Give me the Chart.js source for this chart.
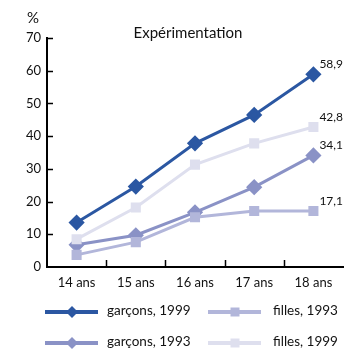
<!DOCTYPE html>
<html>
<head>
<meta charset="utf-8">
<script src="https://cdn.jsdelivr.net/npm/chart.js@4"></script>
<style>
  html, body { margin: 0; padding: 0; background: #fff; overflow: hidden; }
  #wrap { width: 352px; height: 353px; }
</style>
</head>
<body>
<div id="wrap"><canvas id="chart" width="352" height="353"></canvas></div>
<script>
// ages (categories)
const ages = ['14 ans', '15 ans', '16 ans', '17 ans', '18 ans'];
const yTicks = [0, 10, 20, 30, 40, 50, 60, 70];

// series values
const garcons1999 = [13.6, 24.6, 37.8, 46.5, 58.9];
const filles1999 = [8.5, 18.2, 31.3, 37.8, 42.8];
const garcons1993 = [6.8, 9.7, 16.7, 24.4, 34.1];
const filles1993 = [3.7, 7.6, 15.2, 17.1, 17.1];

const endLabels = ['58,9', '42,8', '34,1', '17,1'];

const FONT = 'Lato, "Open Sans", sans-serif';

const colDark = '#2b57a2';
const colMid = '#8a92c6';
const colLight = '#b2b6da';
const colPale = '#dedfee';

function series(label, data, color, shape, r) {
    return {
        label: label,
        data: data,
        borderColor: color,
        backgroundColor: color,
        borderWidth: 3,
        pointStyle: shape,
        pointRadius: r,
        pointHoverRadius: r,
        tension: 0
    };
}

// order: pale first so darker lines sit on top
const datasets = [
    series('filles, 1999', filles1999, colPale, 'rect', 5),
    series('filles, 1993', filles1993, colLight, 'rect', 5),
    series('garçons, 1993', garcons1993, colMid, 'rectRot', 6),
    series('garçons, 1999', garcons1999, colDark, 'rectRot', 6)
];

// labels for the last point of each series
const endInfo = [
    { ds: 3, text: endLabels[0] },
    { ds: 0, text: endLabels[1] },
    { ds: 2, text: endLabels[2] },
    { ds: 1, text: endLabels[3] }
];

// legend layout: [dataset index, column, row]
const legendItems = [[3, 0, 0], [1, 1, 0], [2, 0, 1], [0, 1, 1]];

const decorPlugin = {
    id: 'decor',
    afterDraw: function(chart) {
        const ctx = chart.ctx;
        const xs = chart.scales.x;
        const ys = chart.scales.y;
        const area = chart.chartArea;
        ctx.save();

        // inner ticks
        ctx.strokeStyle = '#000';
        ctx.lineWidth = 1.5;
        ctx.beginPath();
        for (let i = 0; i < ages.length - 1; i++) {
            const x = Math.round((xs.getPixelForTick(i) + xs.getPixelForTick(i + 1)) / 2) + 0.5;
            ctx.moveTo(x, area.bottom);
            ctx.lineTo(x, area.bottom - 7);
        }
        yTicks.forEach(function(v) {
            if (v === 0) return;
            const y = Math.round(ys.getPixelForValue(v)) + 0.5;
            ctx.moveTo(area.left, y);
            ctx.lineTo(area.left + 6, y);
        });
        ctx.stroke();

        // % and title
        ctx.fillStyle = '#111';
        ctx.font = '15px ' + FONT;
        ctx.textAlign = 'center';
        ctx.textBaseline = 'middle';
        ctx.fillText('%', 33, 18);
        ctx.font = '15px ' + FONT;
        ctx.fillText('Expérimentation', 188, 33);

        // end value labels
        ctx.font = '12px ' + FONT;
        ctx.textAlign = 'left';
        endInfo.forEach(function(e) {
            const pt = chart.getDatasetMeta(e.ds).data[ages.length - 1];
            ctx.fillText(e.text, pt.x + 6, pt.y - 10);
        });

        // legend
        legendItems.forEach(function(item) {
            const d = chart.data.datasets[item[0]];
            const x0 = item[1] === 0 ? 45 : 208;
            const y = item[2] === 0 ? 312 : 343;
            ctx.strokeStyle = d.borderColor;
            ctx.fillStyle = d.borderColor;
            ctx.lineWidth = 4;
            ctx.beginPath();
            ctx.moveTo(x0, y);
            ctx.lineTo(x0 + 53, y);
            ctx.stroke();
            const cx = x0 + 27;
            ctx.beginPath();
            if (d.pointStyle === 'rectRot') {
                ctx.moveTo(cx, y - 6);
                ctx.lineTo(cx + 6, y);
                ctx.lineTo(cx, y + 6);
                ctx.lineTo(cx - 6, y);
            } else {
                ctx.rect(cx - 4.5, y - 4.5, 9, 9);
            }
            ctx.closePath();
            ctx.fill();
            ctx.fillStyle = '#111';
            ctx.font = '13.5px ' + FONT;
            ctx.textBaseline = 'middle';
            ctx.fillText(d.label, item[1] === 0 ? 107 : 273, y - 1);
        });

        ctx.restore();
    }
};

new Chart(document.getElementById('chart').getContext('2d'), {
    type: 'line',
    data: { labels: ages, datasets: datasets },
    options: {
        responsive: false,
        animation: false,
        layout: { padding: { top: 38, bottom: 56, left: 0, right: 0 } },
        plugins: {
            legend: { display: false },
            tooltip: { enabled: false }
        },
        scales: {
            x: {
                offset: true,
                grid: { display: false, drawTicks: false },
                border: { display: true, color: '#000', width: 2 },
                ticks: {
                    color: '#111',
                    font: { family: FONT, size: 13 },
                    padding: 8,
                    maxRotation: 0
                },
                afterFit: function(scale) { scale.height = 30; }
            },
            y: {
                min: 0,
                max: 70,
                afterBuildTicks: function(scale) {
                    scale.ticks = yTicks.map(function(v) { return { value: v }; });
                },
                grid: { display: false, drawTicks: false },
                border: { display: true, color: '#000', width: 2 },
                ticks: {
                    color: '#111',
                    font: { family: FONT, size: 13 },
                    padding: 6
                },
                afterFit: function(scale) { scale.width = 47; }
            }
        }
    },
    plugins: [decorPlugin]
});
</script>
</body>
</html>
